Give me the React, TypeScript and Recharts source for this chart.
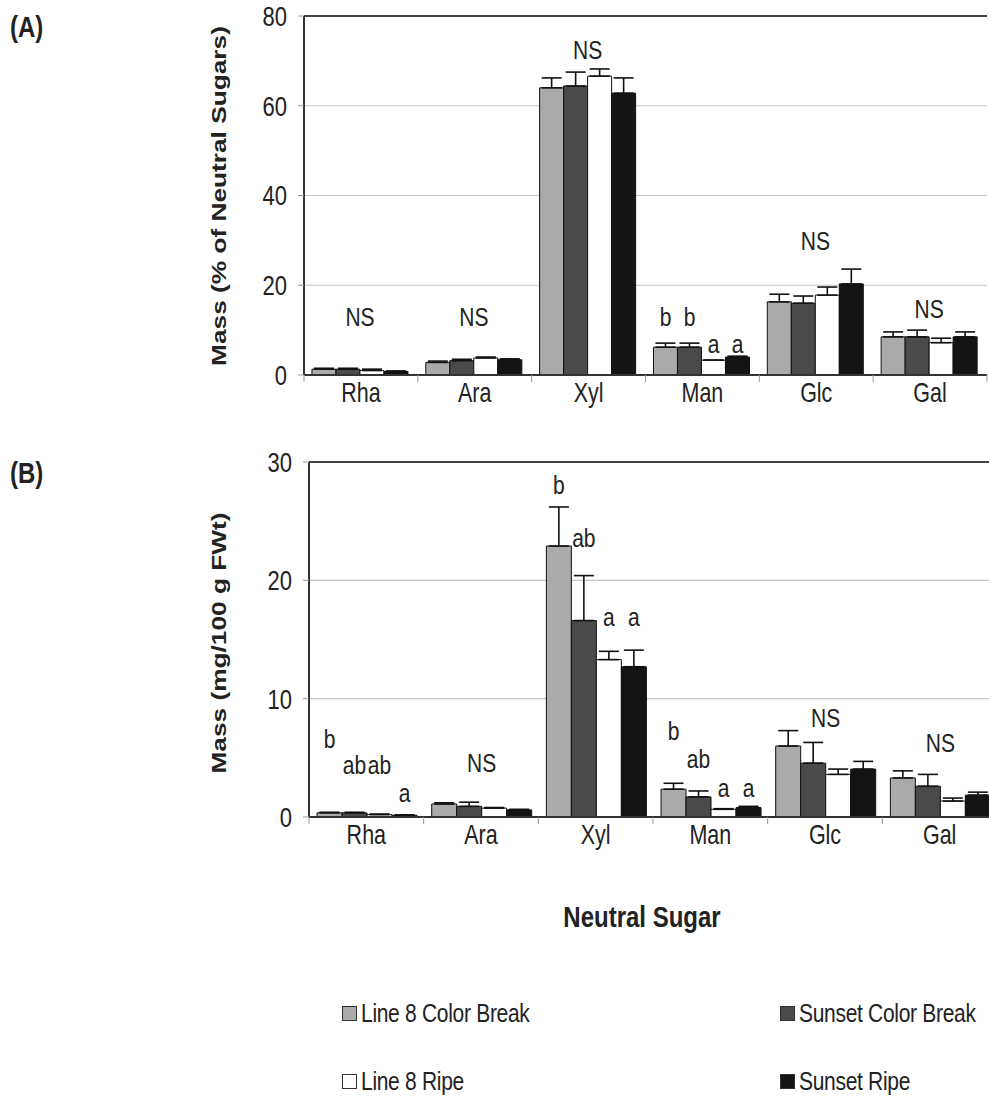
import React from 'react';
import { BarChart, Bar, XAxis, YAxis, CartesianGrid, ErrorBar, ReferenceLine, LabelList } from 'recharts';

const categories = ['Rha', 'Ara', 'Xyl', 'Man', 'Glc', 'Gal'];
const seriesNames = ['Line 8 Color Break', 'Sunset Color Break', 'Line 8 Ripe', 'Sunset Ripe'];
const seriesColors = ['#aaaaaa', '#4a4a4a', '#ffffff', '#141414'];

// Panel A: Mass (% of Neutral Sugars)
const aLine8CB = [1.3, 2.8, 64.0, 6.2, 16.3, 8.5];
const aLine8CBErr = [0.2, 0.3, 2.2, 0.9, 1.7, 1.1];
const aSunsetCB = [1.3, 3.2, 64.4, 6.2, 16.0, 8.5];
const aSunsetCBErr = [0.2, 0.3, 3.1, 0.9, 1.6, 1.5];
const aLine8R = [1.0, 3.8, 66.6, 3.3, 17.8, 7.2];
const aLine8RErr = [0.3, 0.2, 1.6, 0.0, 1.8, 1.0];
const aSunsetR = [0.8, 3.4, 62.8, 4.0, 20.3, 8.5];
const aSunsetRErr = [0.1, 0.2, 3.4, 0.2, 3.3, 1.1];
const aTicks = [0, 20, 40, 60, 80];

// Panel A significance letters
const aGroupText = ['NS', 'NS', 'NS', '', 'NS', 'NS'];
const aGroupAt = [12.9, 13.1, 72.4, 0, 29.9, 14.9];
const aBarText = [
  ['', '', '', 'b', '', ''],
  ['', '', '', 'b', '', ''],
  ['', '', '', 'a', '', ''],
  ['', '', '', 'a', '', ''],
];
const aBarAt = [
  [0, 0, 0, 12.9, 0, 0],
  [0, 0, 0, 12.9, 0, 0],
  [0, 0, 0, 6.9, 0, 0],
  [0, 0, 0, 6.9, 0, 0],
];

// Panel B: Mass (mg/100 g FWt)
const bLine8CB = [0.35, 1.1, 22.9, 2.35, 6.0, 3.3];
const bLine8CBErr = [0.05, 0.1, 3.3, 0.5, 1.3, 0.6];
const bSunsetCB = [0.35, 0.9, 16.6, 1.7, 4.55, 2.6];
const bSunsetCBErr = [0.05, 0.35, 3.8, 0.5, 1.75, 1.0];
const bLine8R = [0.2, 0.75, 13.3, 0.65, 3.6, 1.35];
const bLine8RErr = [0.05, 0.05, 0.7, 0.05, 0.45, 0.25];
const bSunsetR = [0.15, 0.6, 12.7, 0.8, 4.05, 1.85];
const bSunsetRErr = [0.03, 0.05, 1.4, 0.1, 0.65, 0.25];
const bTicks = [0, 10, 20, 30];

const bGroupText = ['', 'NS', '', '', 'NS', 'NS'];
const bGroupAt = [0, 4.56, 0, 0, 8.4, 6.3];
const bBarText = [
  ['b', '', 'b', 'b', '', ''],
  ['ab', '', 'ab', 'ab', '', ''],
  ['ab', '', 'a', 'a', '', ''],
  ['a', '', 'a', 'a', '', ''],
];
const bBarAt = [
  [6.6, 0, 28.1, 7.3, 0, 0],
  [4.4, 0, 23.6, 4.9, 0, 0],
  [4.4, 0, 16.9, 2.5, 0, 0],
  [2.03, 0, 16.9, 2.5, 0, 0],
];

const FONT = '"Liberation Sans", Arial, sans-serif';
const SY = 1.25; // glyphs in the figure are taller than wide

function buildRows(vals: number[][], errs: number[][], barText: string[][]) {
  return categories.map((c, i) => {
    const row: any = { name: c };
    vals.forEach((v, s) => {
      row['v' + s] = v[i];
      row['e' + s] = [0, errs[s][i]];
      row['t' + s] = barText[s][i];
    });
    return row;
  });
}

const rowsA = buildRows(
  [aLine8CB, aSunsetCB, aLine8R, aSunsetR],
  [aLine8CBErr, aSunsetCBErr, aLine8RErr, aSunsetRErr],
  aBarText
);
const rowsB = buildRows(
  [bLine8CB, bSunsetCB, bLine8R, bSunsetR],
  [bLine8CBErr, bSunsetCBErr, bLine8RErr, bSunsetRErr],
  bBarText
);

const Txt = (p: { x: number; y: number; size: number; anchor?: string; bold?: boolean; children: any }) => (
  <text
    transform={`translate(${p.x},${p.y}) scale(1,${SY})`}
    textAnchor={p.anchor || 'middle'}
    dominantBaseline="central"
    fontSize={p.size}
    fontWeight={p.bold ? 'bold' : 'normal'}
    fontFamily={FONT}
    fill="#222"
  >
    {p.children}
  </text>
);

function makeLabel(rows: any[], s: number, texts: string[], ats: number[], center: boolean) {
  return (p: any) => {
    const vb = p.viewBox || p;
    const x = Number(vb.x ?? p.x);
    const y = Number(vb.y ?? p.y);
    const width = Number(vb.width ?? p.width);
    const height = Number(vb.height ?? p.height);
    const index = p.index;
    const t = texts[index];
    if (!t) return null;
    const v = rows[index]['v' + s];
    const k = height / v;
    const ty = y + height - ats[index] * k;
    const tx = center ? x + width / 2 : x + width;
    return (
      <Txt x={tx} y={ty} size={21}>
        {t}
      </Txt>
    );
  };
}

const CatTick = (props: any) => {
  const { x, y, payload, index, visibleTicksCount } = props;
  const half = payload && payload.offset ? payload.offset : 0;
  const last = index === (visibleTicksCount ?? categories.length) - 1;
  return (
    <g>
      <line x1={x - half} x2={x - half} y1={y} y2={y + 7} stroke="#999" strokeWidth={1} />
      {last ? <line x1={x + half} x2={x + half} y1={y} y2={y + 7} stroke="#999" strokeWidth={1} /> : null}
      <Txt x={x} y={y + 18} size={21.5}>
        {payload.value}
      </Txt>
    </g>
  );
};

const ValTick = (props: any) => {
  const { x, y, payload } = props;
  return (
    <Txt x={x} y={y} size={22} anchor="end">
      {payload.value}
    </Txt>
  );
};

function Panel(props: {
  rows: any[];
  ticks: number[];
  width: number;
  height: number;
  margin: any;
  yWidth: number;
  groupText: string[];
  groupAt: number[];
  barText: string[][];
  barAt: number[][];
}) {
  const { rows, ticks, width, height, margin, yWidth, groupText, groupAt, barText, barAt } = props;
  const top = ticks[ticks.length - 1];
  return (
    <BarChart width={width} height={height} data={rows} margin={margin} barCategoryGap="7%" barGap={0}>
      <CartesianGrid horizontal={true} vertical={false} stroke="#c4c4c4" strokeWidth={1.2} />
      <XAxis
        dataKey="name"
        axisLine={{ stroke: '#333', strokeWidth: 2 }}
        tickLine={false}
        tickSize={0}
        tickMargin={0}
        tick={<CatTick />}
        interval={0}
        height={45}
      />
      <YAxis
        domain={[0, top]}
        ticks={ticks}
        interval={0}
        width={yWidth}
        axisLine={{ stroke: '#333', strokeWidth: 2 }}
        tickLine={{ stroke: '#999' }}
        tickSize={6}
        tickMargin={11}
        tick={<ValTick />}
      />
      <YAxis
        yAxisId="right"
        orientation="right"
        width={0}
        tick={false}
        tickLine={false}
        axisLine={{ stroke: '#444', strokeWidth: 2 }}
      />
      <ReferenceLine y={top} stroke="#444" strokeWidth={2} />
      {seriesColors.map((c, s) => (
        <Bar key={s} dataKey={'v' + s} fill={c} stroke="#111" strokeWidth={1} isAnimationActive={false}>
          <ErrorBar dataKey={'e' + s} width={10} stroke="#111" strokeWidth={1.6} direction="y" />
          <LabelList dataKey={'t' + s} content={makeLabel(rows, s, barText[s], barAt[s], true)} />
          {s === 1 ? (
            <LabelList dataKey="name" content={makeLabel(rows, s, groupText, groupAt, false)} />
          ) : null}
        </Bar>
      ))}
    </BarChart>
  );
}

export default function App() {
  return (
    <div style={{ position: 'absolute', left: 0, top: 0, width: 989, height: 1098, overflow: 'hidden', background: '#fff' }}>
      <div style={{ position: 'absolute', left: 0, top: 0 }}>
        <Panel
          rows={rowsA}
          ticks={aTicks}
          width={989}
          height={420}
          margin={{ top: 16, right: 2, left: 0, bottom: 0 }}
          yWidth={304}
          groupText={aGroupText}
          groupAt={aGroupAt}
          barText={aBarText}
          barAt={aBarAt}
        />
      </div>
      <div style={{ position: 'absolute', left: 0, top: 440 }}>
        <Panel
          rows={rowsB}
          ticks={bTicks}
          width={1000}
          height={422}
          margin={{ top: 22, right: 3, left: 0, bottom: 0 }}
          yWidth={309}
          groupText={bGroupText}
          groupAt={bGroupAt}
          barText={bBarText}
          barAt={bBarAt}
        />
      </div>
      <svg width={989} height={1098} style={{ position: 'absolute', left: 0, top: 0, pointerEvents: 'none' }}>
        <Txt x={10} y={27} size={24} anchor="start" bold>(A)</Txt>
        <Txt x={10} y={473} size={24} anchor="start" bold>(B)</Txt>
        <text transform={`translate(218,196) rotate(-90) scale(${SY},1)`} textAnchor="middle" dominantBaseline="central" fontSize={21} fontWeight="bold" fontFamily={FONT} fill="#222">
          Mass (% of Neutral Sugars)
        </text>
        <text transform={`translate(218,643) rotate(-90) scale(${SY},1)`} textAnchor="middle" dominantBaseline="central" fontSize={21} fontWeight="bold" fontFamily={FONT} fill="#222">
          Mass (mg/100 g FWt)
        </text>
        <Txt x={642} y={917} size={24} bold>Neutral Sugar</Txt>
      </svg>
      <div
        style={{
          position: 'absolute',
          left: 342,
          top: 998,
          display: 'grid',
          gridTemplateColumns: '438px 200px',
          rowGap: 38,
          fontFamily: FONT,
          fontSize: 21,
          letterSpacing: -0.3,
          color: '#222',
          whiteSpace: 'nowrap',
        }}
      >
        {seriesNames.map((n, i) => (
          <div key={n} style={{ display: 'flex', alignItems: 'center', height: 30 }}>
            <span
              style={{
                display: 'inline-block',
                width: 13,
                height: 13,
                border: '1px solid #333',
                background: seriesColors[i],
                marginRight: 4,
              }}
            />
            <span style={{ display: 'inline-block', transform: `scaleY(${SY})` }}>{n}</span>
          </div>
        ))}
      </div>
    </div>
  );
}
